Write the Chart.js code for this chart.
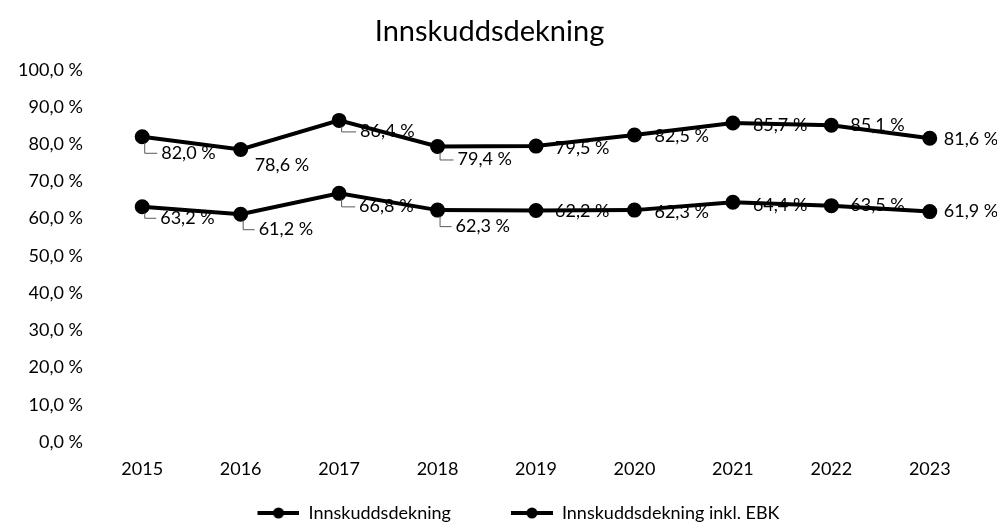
<!DOCTYPE html>
<html>
<head>
<meta charset="utf-8">
<script src="https://cdn.jsdelivr.net/npm/chart.js@4"></script>
<style>
  html, body { margin: 0; padding: 0; background: #fff; }
  #wrap { width: 997px; height: 523px; }
</style>
</head>
<body>
<div id="wrap"><canvas id="myChart" width="997" height="523"></canvas></div>
<script>
var years = ['2015','2016','2017','2018','2019','2020','2021','2022','2023'];

var dekning    = [63.2, 61.2, 66.8, 62.3, 62.2, 62.3, 64.4, 63.5, 61.9];
var dekningEbk = [82.0, 78.6, 86.4, 79.4, 79.5, 82.5, 85.7, 85.1, 81.6];

// label offsets (dx, dy from point, leader line yes/no)
var offsEbk = [[19,16,1],[14,16,0],[21,11,1],[20,13,1],[19,2,0],[20,1,0],[20,2,0],[19,0,0],[14,1,0]];
var offsDek = [[18,11,1],[18,15,1],[20,13,1],[18,16,1],[19,1,0],[20,2,0],[20,3,0],[19,0,0],[14,0,0]];

var FONT = 'Lato, "Liberation Sans", sans-serif';

function pct(v) { return v.toFixed(1).replace('.', ',') + ' %'; }

// legend marker: line with a dot, sitting at the right of a wider transparent box
var MW = 100;
var marker = document.createElement('canvas');
marker.width = MW; marker.height = 14;
(function () {
  var c = marker.getContext('2d');
  c.strokeStyle = '#000'; c.lineWidth = 4;
  c.beginPath(); c.moveTo(MW - 42, 7); c.lineTo(MW, 7); c.stroke();
  c.fillStyle = '#000';
  c.beginPath(); c.arc(MW - 21, 7, 5.5, 0, Math.PI * 2); c.fill();
})();

var labelPlugin = {
  id: 'pointLabels',
  afterDatasetsDraw: function (chart) {
    var ctx = chart.ctx;
    var sets = [offsDek, offsEbk];
    ctx.save();
    ctx.font = '18px ' + FONT;
    ctx.fillStyle = '#000';
    ctx.textBaseline = 'middle';
    ctx.textAlign = 'left';
    chart.data.datasets.forEach(function (ds, i) {
      var meta = chart.getDatasetMeta(i);
      meta.data.forEach(function (pt, j) {
        var o = sets[i][j];
        var x = pt.x + o[0], y = pt.y + o[1];
        if (o[2]) {
          ctx.strokeStyle = '#595959'; ctx.lineWidth = 1;
          ctx.beginPath();
          ctx.moveTo(pt.x + 2.5, pt.y + 6);
          ctx.lineTo(pt.x + 2.5, y + 0.5);
          ctx.lineTo(x - 4, y + 0.5);
          ctx.stroke();
        }
        ctx.fillText(pct(ds.data[j]), x, y);
      });
    });
    ctx.restore();
  }
};

var ctx = document.getElementById('myChart');
var myChart = new Chart(ctx, {
  type: 'line',
  data: {
    labels: years,
    datasets: [
      {
        data: dekning,
        label: 'Innskuddsdekning',
        borderColor: '#000',
        backgroundColor: '#000',
        borderWidth: 4,
        pointRadius: 5.5,
        pointStyle: 'circle',
        fill: false
      },
      {
        data: dekningEbk,
        label: 'Innskuddsdekning inkl. EBK',
        borderColor: '#000',
        backgroundColor: '#000',
        borderWidth: 4,
        pointRadius: 5.5,
        pointStyle: 'circle',
        fill: false
      }
    ]
  },
  options: {
    responsive: false,
    animation: false,
    layout: { padding: { left: 0, right: 18, top: 0, bottom: -9 } },
    plugins: {
      title: {
        display: true,
        text: 'Innskuddsdekning',
        color: '#000',
        font: { family: FONT, size: 29, weight: 'normal' },
        padding: { top: 14, bottom: 21 }
      },
      legend: {
        position: 'bottom',
        labels: {
          color: '#000',
          font: { family: FONT, size: 18 },
          usePointStyle: true,
          pointStyleWidth: MW,
          padding: 2,
          generateLabels: function (chart) {
            var items = Chart.defaults.plugins.legend.labels.generateLabels(chart);
            items.forEach(function (it) { it.pointStyle = marker; });
            return items;
          }
        }
      },
      tooltip: { enabled: false }
    },
    scales: {
      x: {
        offset: true,
        grid: { display: false, drawTicks: false },
        border: { display: false },
        afterFit: function (s) { s.height = 60; },
        ticks: { color: '#000', font: { family: FONT, size: 18 }, padding: 16 }
      },
      y: {
        min: 0,
        max: 100,
        grid: { display: false, drawTicks: false },
        border: { display: false },
        afterFit: function (s) { s.width = 93; },
        ticks: {
          stepSize: 10,
          color: '#000',
          padding: 10,
          font: { family: FONT, size: 18 },
          callback: function (v) { return pct(v); }
        }
      }
    }
  },
  plugins: [labelPlugin]
});
</script>
</body>
</html>
